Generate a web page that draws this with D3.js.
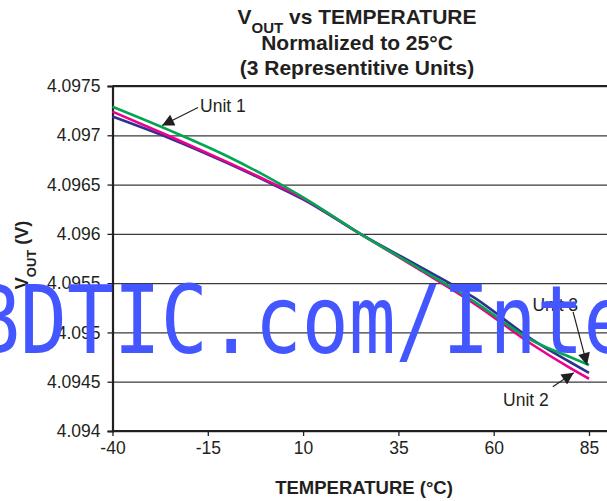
<!DOCTYPE html>
<html>
<head>
<meta charset="utf-8">
<script src="https://cdn.jsdelivr.net/npm/d3@7"></script>
<style>
  body { margin: 0; background: #fff; }
  svg text { font-family: "Liberation Sans", Arial, sans-serif; fill: #231f20; }
</style>
</head>
<body>
<div id="chart"></div>
<script>
//Chart Data
let temperatures = [-40, -25, -10, 0, 10, 25, 40, 55, 70, 80, 85];
let unit1 = [4.09719, 4.09697, 4.09672, 4.09654, 4.09635, 4.09600, 4.09568, 4.09535, 4.09493, 4.09470, 4.09459];
let unit2 = [4.09724, 4.09699, 4.09673, 4.09655, 4.09636, 4.09600, 4.09565, 4.09529, 4.09488, 4.09464, 4.09453];
let unit3 = [4.09729, 4.09705, 4.09679, 4.09659, 4.09637, 4.09600, 4.09566, 4.09531, 4.09492, 4.09475, 4.09467];
let seriesNames = ["Unit 1", "Unit 2", "Unit 3"];
let seriesColors = ["#2e3192", "#ec008c", "#00a651"];

//Tick Values and Labels
let xTicks = [-40, -15, 10, 35, 60, 85];
let xTickLabels = ["-40", "-15", "10", "35", "60", "85"];
let yTicks = [4.094, 4.0945, 4.095, 4.0955, 4.096, 4.0965, 4.097, 4.0975];
let yTickLabels = ["4.094", "4.0945", "4.095", "4.0955", "4.096", "4.0965", "4.097", "4.0975"];

//Annotation Arrow Tips in Data Units (Temperature, Volts)
let calloutTips = [[-27, 4.0971], [81, 4.09459], [84.5, 4.09467]];

//Create Parameters for Height and Width of SVG
let svgWidth = 607;
let svgHeight = 501;

//Set Margins of the Plot Area (Right Side Runs Off the Picture)
let margin = { top: 86, bottom: 70, left: 112.5, right: -13 };
let height = svgHeight - margin.top - margin.bottom;
let width = svgWidth - margin.left - margin.right;

let svg = d3.select("#chart")
  .append("svg")
  .attr("width", svgWidth)
  .attr("height", svgHeight);

let chartGroup = svg.append("g")
  .attr("transform", `translate(${margin.left}, ${margin.top})`);

//Scales
let xScale = d3.scaleLinear()
  .domain([-40, 85])
  .range([0, 476.5]);
let yScale = d3.scaleLinear()
  .domain([4.094, 4.0975])
  .range([height, 0]);

//Horizontal Gridlines
chartGroup.append("g")
  .attr("class", "grid")
  .call(d3.axisLeft(yScale).tickValues(yTicks).tickSize(-width).tickFormat(""))
  .call(g => g.select(".domain").remove())
  .call(g => g.selectAll("line").attr("stroke", "#3a3a3a").attr("stroke-width", 1.3));

//Top Border of the Plot
chartGroup.append("line")
  .attr("x1", 0).attr("x2", width)
  .attr("y1", 0).attr("y2", 0)
  .attr("stroke", "#231f20")
  .attr("stroke-width", 2.2);

//Left Axis
let leftAxis = d3.axisLeft(yScale)
  .tickValues(yTicks)
  .tickSize(5)
  .tickPadding(7)
  .tickFormat((d, i) => yTickLabels[i]);
chartGroup.append("g")
  .call(leftAxis)
  .call(g => g.select(".domain").attr("stroke", "#231f20").attr("stroke-width", 2.2))
  .call(g => g.selectAll(".tick line").attr("stroke", "#231f20").attr("stroke-width", 1.3))
  .call(g => g.selectAll(".tick text").style("font-size", "17.5px").attr("fill", "#231f20"));

//Bottom Axis
let bottomAxis = d3.axisBottom(xScale)
  .tickValues(xTicks)
  .tickSize(5)
  .tickPadding(6)
  .tickSizeOuter(0)
  .tickFormat((d, i) => xTickLabels[i]);
chartGroup.append("g")
  .attr("transform", `translate(0, ${height})`)
  .call(bottomAxis)
  .call(g => g.select(".domain").attr("d", `M0,0H${width}`).attr("stroke", "#231f20").attr("stroke-width", 2.2))
  .call(g => g.selectAll(".tick line").attr("stroke", "#231f20").attr("stroke-width", 1.3))
  .call(g => g.selectAll(".tick text").style("font-size", "17.5px").attr("fill", "#231f20"));

//Lines for the Three Units (Drawn Blue, Magenta, Green)
let lineGen = d3.line()
  .x(d => xScale(d[0]))
  .y(d => yScale(d[1]))
  .curve(d3.curveMonotoneX);

[unit1, unit2, unit3].forEach(function (values, i) {
  chartGroup.append("path")
    .datum(temperatures.map((t, j) => [t, values[j]]))
    .attr("fill", "none")
    .attr("stroke", seriesColors[i])
    .attr("stroke-width", 2.6)
    .attr("d", lineGen);
});

//Arrowhead Marker for the Callouts
svg.append("defs").append("marker")
  .attr("id", "arrow")
  .attr("viewBox", "0 0 10 10")
  .attr("refX", 10).attr("refY", 5)
  .attr("markerUnits", "userSpaceOnUse")
  .attr("markerWidth", 15).attr("markerHeight", 12)
  .attr("orient", "auto")
  .append("path")
  .attr("d", "M0,0L10,5L0,10Z")
  .attr("fill", "#231f20");

//Callouts: Tail and Text Offsets Relative to Each Tip
let calloutOffsets = [
  { tail: [36, -18], text: [38, -13], anchor: "start" },
  { tail: [-21, 14], text: [-25, 33], anchor: "end" },
  { tail: [-14, -53], text: [-9, -54], anchor: "end" }
];

calloutTips.forEach(function (tip, i) {
  let tx = xScale(tip[0]);
  let ty = yScale(tip[1]);
  let off = calloutOffsets[i];
  chartGroup.append("line")
    .attr("x1", tx + off.tail[0]).attr("y1", ty + off.tail[1])
    .attr("x2", tx).attr("y2", ty)
    .attr("stroke", "#231f20")
    .attr("stroke-width", 1.2)
    .attr("marker-end", "url(#arrow)");
  chartGroup.append("text")
    .attr("x", tx + off.text[0])
    .attr("y", ty + off.text[1])
    .attr("text-anchor", off.anchor)
    .style("font-size", "17.5px")
    .text(seriesNames[i]);
});

//Title (Three Lines)
let title = svg.append("text")
  .attr("x", 357)
  .attr("y", 24)
  .attr("text-anchor", "middle")
  .style("font-size", "21px")
  .style("font-weight", "bold");
title.append("tspan").text("V");
title.append("tspan").attr("baseline-shift", "sub").style("font-size", "15px").text("OUT");
title.append("tspan").text(" vs TEMPERATURE");

svg.append("text")
  .attr("x", 357).attr("y", 50)
  .attr("text-anchor", "middle")
  .style("font-size", "21px")
  .style("font-weight", "bold")
  .text("Normalized to 25°C");

svg.append("text")
  .attr("x", 357).attr("y", 75)
  .attr("text-anchor", "middle")
  .style("font-size", "21px")
  .style("font-weight", "bold")
  .text("(3 Representitive Units)");

//Axis Titles
svg.append("text")
  .attr("x", 364).attr("y", 494)
  .attr("text-anchor", "middle")
  .style("font-size", "18.5px")
  .style("font-weight", "bold")
  .text("TEMPERATURE (°C)");

let yTitle = svg.append("text")
  .attr("transform", "translate(28, 255) rotate(-90)")
  .attr("text-anchor", "middle")
  .style("font-size", "18px")
  .style("font-weight", "bold");
yTitle.append("tspan").text("V");
yTitle.append("tspan").attr("baseline-shift", "sub").style("font-size", "13px").text("OUT");
yTitle.append("tspan").text(" (V)");

//Watermark Text Over the Plot (Tall, Narrow Letters)
svg.append("text")
  .attr("transform", "translate(-27, 353) scale(1, 1.22)")
  .style("font-family", "'DejaVu Sans Mono', monospace")
  .style("font-size", "78px")
  .style("fill", "#4356ff")
  .text("BDTIC.com/Inte");
</script>
</body>
</html>
